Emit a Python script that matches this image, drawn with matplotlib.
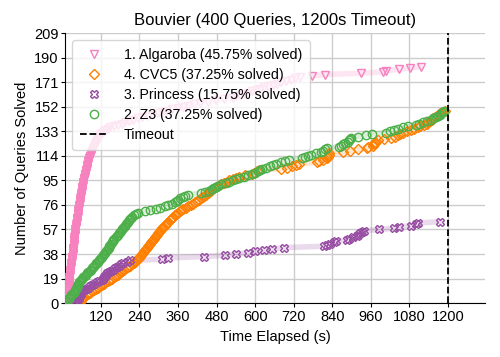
import matplotlib
matplotlib.use("Agg")
import matplotlib.pyplot as plt
import numpy as np

plt.rcParams['font.family'] = ['Liberation Sans', 'DejaVu Sans']

# solve times (s) for each solved query
algaroba_t = [10, 11, 12, 13, 14, 15, 15, 16,
              17, 17, 18, 18, 19, 19, 20, 20, 21, 21, 22, 22, 23, 23, 24, 24, 25, 25, 26, 26, 27, 27, 28, 29, 30,
              30, 31, 31, 32, 32, 33, 33, 33, 34, 34, 35, 35, 35, 36, 36, 37, 37, 37, 38, 38, 39, 39, 40, 40,
              41, 41, 42, 43, 44, 44, 45, 46, 46, 47, 48, 48, 49, 50, 50, 51, 52, 52, 53,
              54, 54, 55, 56, 56, 57, 58, 58, 59, 60, 60, 61, 62, 62, 63, 64, 64, 65, 66,
              67, 68, 69, 70, 71, 72, 73, 74, 75, 76, 77, 78, 79, 80, 81, 82,
              84, 85, 87, 88, 90, 91, 93, 94, 96,
              98, 100, 102, 104, 106, 108, 110, 112, 114, 116, 118,
              124, 130, 136, 142, 148,
              160, 172, 184, 196, 208, 220,
              236, 249, 268, 279, 297, 311, 324,
              340, 361, 377, 392, 410, 427,
              452, 479, 503, 530,
              542, 553, 566, 578, 590, 602, 615, 628, 641, 655, 668, 682, 697, 711, 725,
              739, 776, 819, 930, 998, 1007, 1048, 1082, 1116]

cvc5_t = [56, 58, 61, 63,
          68, 74, 80, 86, 92,
          98, 104, 110, 116, 122, 128,
          134, 141, 148, 155, 162,
          167, 172, 177, 182, 187, 191,
          197, 203, 210, 216, 222,
          226, 230, 234, 238, 242, 245, 248, 252,
          255, 258, 261, 264, 267, 271, 274, 277, 280, 283,
          286, 289, 292, 295, 298, 302, 305, 308, 311, 314,
          318, 322, 326, 330, 334, 337, 341, 345,
          350, 355, 360, 365, 370,
          377, 384, 391, 399, 406,
          412, 418, 425, 431, 437,
          442, 447, 452, 457, 462, 467, 473, 478,
          486, 494, 503, 511, 520,
          530, 540, 551,
          570, 591,
          598, 605, 612,
          680, 700,
          715, 727, 736,
          792, 800, 812, 823,
          826, 828, 829, 831,
          875, 897, 920, 947, 953, 968,
          970, 972, 974, 984, 1000, 1024, 1035, 1045, 1050,
          1060, 1072, 1085, 1095, 1107,
          1115, 1125, 1135,
          1140, 1145, 1150, 1155,
          1160, 1165, 1170, 1175, 1182, 1190]

princess_t = [38, 44,
              48, 51, 53, 55, 57, 59, 61,
              67, 73, 79, 85, 92,
              99, 107, 115, 123,
              126, 129, 133, 136, 139,
              145, 151, 158, 164,
              170, 177, 183, 190,
              200, 210,
              309, 328, 442, 507, 541, 578, 600, 628, 652, 690,
              815, 825, 833, 845, 851, 885, 891, 905, 918, 922, 928, 933, 940,
              986, 1033, 1048, 1085, 1100, 1106, 1175]

z3_t = [12, 14, 17, 20, 24, 27, 31, 35,
        38, 40, 42, 44, 46, 48, 50,
        53, 56, 59, 62, 65,
        69, 73, 77, 81, 85, 89, 92, 96,
        99, 103, 106, 110, 113, 117, 120, 123, 127, 130, 133,
        136, 138, 141, 144, 146, 149, 151, 154, 156, 159,
        162, 166, 169, 173, 176, 180, 183, 187, 190,
        193, 195, 198, 201, 204, 206, 209, 212,
        217, 223, 229, 236,
        256, 272, 290, 303,
        318, 330, 340,
        350, 356, 361, 365,
        375, 383, 390,
        433, 445, 458,
        466, 472, 478, 483,
        495, 508, 520,
        530, 541, 551,
        565, 578, 591,
        600, 608, 615, 622,
        635, 645, 655, 665,
        680, 692, 705,
        745, 755, 765, 773,
        790, 804,
        812, 818, 823,
        860, 868, 875, 881,
        888, 893, 897, 900,
        922, 945, 965,
        1008, 1020, 1033, 1045,
        1062, 1077, 1101, 1112, 1123,
        1136, 1148, 1155, 1162, 1169,
        1175, 1180, 1185, 1188]

labels = ['1. Algaroba (45.75% solved)', '4. CVC5 (37.25% solved)',
          '3. Princess (15.75% solved)', '2. Z3 (37.25% solved)']
colors = ['#f781bf', '#ff7f00', '#984ea3', '#4daf4a']
markers = ['v', 'D', 'X', 'o']
msizes = [5.5, 5.5, 5.5, 6]

timeout = 1200
yticks = [0, 19, 38, 57, 76, 95, 114, 133, 152, 171, 190, 209]
xticks = [120, 240, 360, 480, 600, 720, 840, 960, 1080, 1200]

fig, ax = plt.subplots(figsize=(5, 3.57), dpi=100)
fig.subplots_adjust(left=0.13, right=0.97, top=0.907, bottom=0.151)

for times, lab, c, m, ms in zip([algaroba_t, cvc5_t, princess_t, z3_t],
                                labels, colors, markers, msizes):
    n = np.arange(1, len(times) + 1)
    ax.plot(times, n, color=c, lw=4, alpha=0.2, solid_capstyle='round', zorder=2)
    ax.plot(times, n, ls='none', marker=m, ms=ms, mfc='none', mec=c, mew=1.0,
            label=lab, zorder=3)

ax.axvline(timeout, color='black', ls='--', lw=1.3, label='Timeout', zorder=4)

ax.set_xlim(8, 1316)
ax.set_ylim(0, 209)
ax.set_xticks(xticks)
ax.set_yticks(yticks)
ax.tick_params(axis='x', labelsize=10.5, length=3, pad=2)
ax.tick_params(axis='y', labelsize=10.5, length=3, pad=1.5)
ax.grid(True, color='#cccccc', lw=1)
ax.set_axisbelow(True)
for s in ['top', 'right']:
    ax.spines[s].set_visible(False)

ax.set_title('Bouvier (400 Queries, 1200s Timeout)', fontsize=12)
ax.set_xlabel('Time Elapsed (s)', fontsize=10.5)
ax.set_ylabel('Number of Queries Solved', fontsize=10.5)
ax.legend(loc='upper left', fontsize=10.2, numpoints=1, handlelength=2.0,
          handletextpad=1.1, framealpha=0.8, borderaxespad=0.5,
          borderpad=0.55, labelspacing=0.42)

fig.savefig('out.png', dpi=100)
